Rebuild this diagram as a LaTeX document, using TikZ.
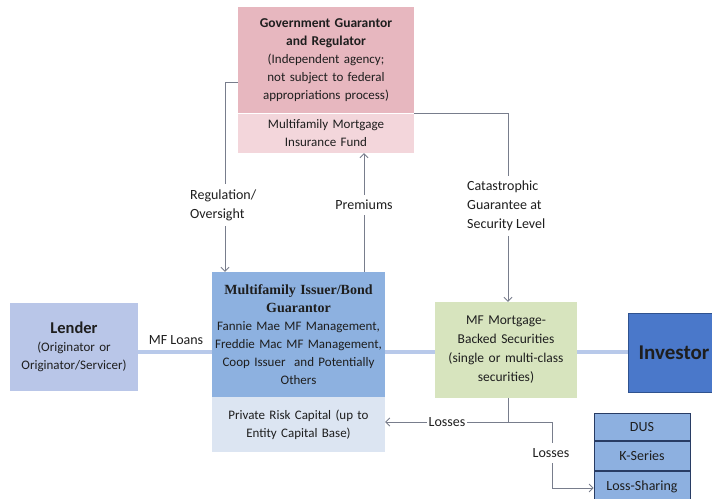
\documentclass[tikz,border=0pt]{standalone}
\usepackage{fontspec}
\setmainfont{Carlito}
\newfontfamily\serifbold{Liberation Serif}
\usetikzlibrary{arrows.meta}

\definecolor{govtop}{RGB}{231,183,191}
\definecolor{govbot}{RGB}{243,214,219}
\definecolor{isstop}{RGB}{141,177,224}
\definecolor{issbot}{RGB}{220,229,242}
\definecolor{lend}{RGB}{185,198,232}
\definecolor{mbsg}{RGB}{215,228,190}
\definecolor{inv}{RGB}{74,120,202}
\definecolor{invb}{RGB}{47,82,143}
\definecolor{dusf}{RGB}{141,176,224}
\definecolor{dusb}{RGB}{40,60,100}
\definecolor{flow}{RGB}{184,201,234}
\definecolor{connc}{RGB}{120,125,140}
\definecolor{txt}{RGB}{30,30,30}

\begin{document}
\begin{tikzpicture}[x=1pt,y=-1pt,
 box/.style={draw=none, inner sep=2pt, align=center, text=txt, font=\fontsize{13}{18}\selectfont},
 conn/.style={draw=connc, line width=0.8pt},
 arr/.style={conn, -{Straight Barb[length=4pt,width=8pt]}},
 flowline/.style={draw=flow, line width=4.5pt},
 lab/.style={fill=white, inner xsep=2pt, inner ysep=5pt, text=txt, font=\fontsize{14}{19}\selectfont},
 stack/.style={box, fill=dusf, draw=dusb, line width=0.8pt, minimum width=96pt, anchor=north, font=\fontsize{14}{18}\selectfont}]

\useasboundingbox (0,0) rectangle (712,498);
\clip (0,0) rectangle (712,498);

% boxes
\node[box, fill=govtop, text width=172pt, minimum height=106pt] (gov) at (326,60)
 {{\bfseries\fontsize{13.5}{18}\selectfont Government Guarantor\\ and Regulator\\}(Independent agency;\\ not subject to federal\\ appropriations process)};
\node[box, fill=govbot, text width=172pt, minimum height=40pt] (fund) at (326,133)
 {Multifamily Mortgage\\ Insurance Fund};
\draw[white, line width=1pt] (gov.south west) -- (gov.south east);

\node[box, fill=isstop, text width=169pt, minimum height=125pt] (iss) at (298.5,334.5)
 {{\serifbold\bfseries\fontsize{14}{18}\selectfont Multifamily Issuer/Bond\\ Guarantor\\}Fannie Mae MF Management,\\ Freddie Mac MF Management,\\ Coop Issuer\ \ and Potentially\\ Others};
\node[box, fill=issbot, text width=169pt, minimum height=55pt] (risk) at (298.5,424.5)
 {Private Risk Capital (up to\\ Entity Capital Base)};

\node[box, fill=lend, text width=124pt, minimum height=88pt] (lender) at (74,347)
 {{\bfseries\fontsize{16.5}{18}\selectfont Lender}\\ (Originator or\\ Originator/Servicer)};

\node[box, fill=mbsg, text width=138pt, minimum height=96pt, font=\fontsize{13.5}{19}\selectfont] (mbs) at (506,350)
 {MF Mortgage-\\ Backed Securities\\ (single or multi-class\\ securities)};

\node[box, fill=inv, draw=invb, line width=1pt, anchor=north west, minimum width=132pt,
 minimum height=79pt, text width=112pt, inner xsep=10pt, align=left,
 font=\bfseries\fontsize{21}{26}\selectfont] (inv) at (628,313) {Investor};

\node[stack, minimum height=27pt] (dus) at (642,413) {DUS};
\node[stack, minimum height=29pt] (kser) at (dus.south) {K-Series};
\node[stack, minimum height=31pt] (lsh) at (kser.south) {Loss-Sharing};

% flow lines
\coordinate (fy) at (0,352);
\draw[flowline] (lender.east |- fy) -- (iss.west |- fy);
\draw[flowline] (iss.east |- fy) -- (mbs.west |- fy);
\draw[flowline] (mbs.east |- fy) -- (inv.west |- fy);

% connectors
\coordinate (rc) at (225,82);
\draw[arr] (gov.west |- rc) -- (rc) -- (rc |- iss.north);
\coordinate (pm) at (364,272);
\draw[arr] (pm |- iss.north) -- (pm |- fund.south);
\coordinate (cc) at (508,113);
\draw[arr] (gov.east |- cc) -- (cc) -- (cc |- mbs.north);

\coordinate (lj) at (508,422);
\coordinate (lc) at (552,422);
\coordinate (ld) at (552,488);
\draw[conn] (lj |- mbs.south) -- (lj);
\draw[arr] (lc) -- (lc -| risk.east);
\draw[arr] (lc) -- (ld) -- (ld -| lsh.west);

% labels
\node[lab, align=left, anchor=west] (regl) at (188,205) {Regulation/\\Oversight};
\node[lab] (prem) at (364,205) {Premiums};
\node[lab, align=left, anchor=west] (catl) at (465,206) {Catastrophic\\Guarantee at\\Security Level};
\node[lab, fill=none] (mfl) at (176,340) {MF Loans};
\node[lab] (loss1) at (447,422) {Losses};
\node[lab] (loss2) at (551,453) {Losses};
\end{tikzpicture}
\end{document}
